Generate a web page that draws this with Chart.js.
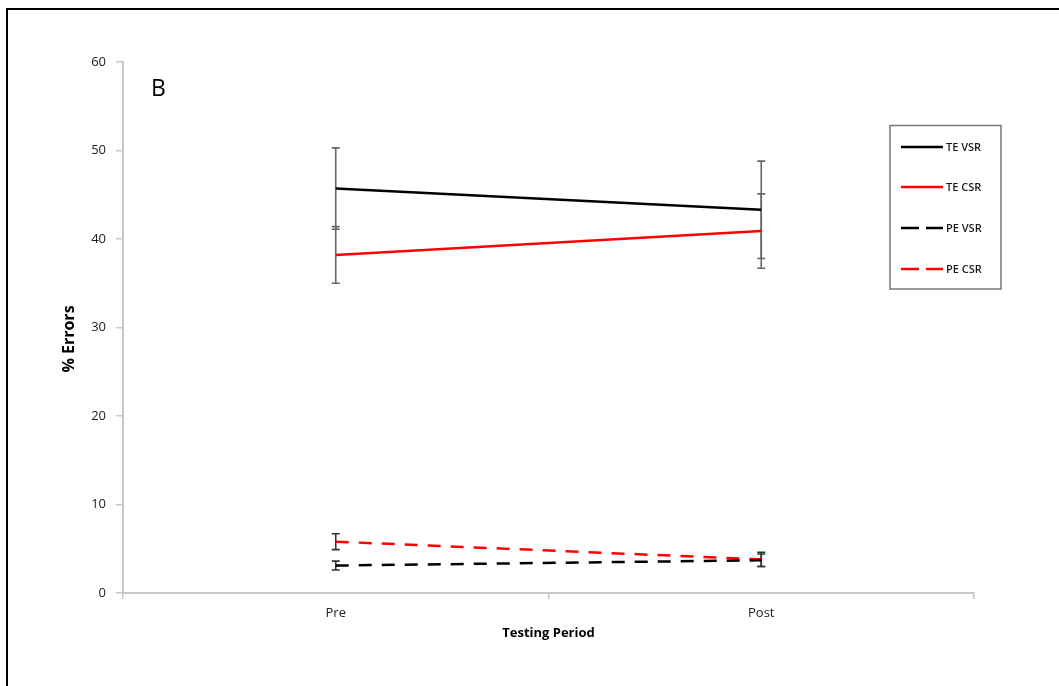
<!DOCTYPE html>
<html>
<head>
<meta charset="utf-8">
<script src="https://cdn.jsdelivr.net/npm/chart.js@4"></script>
<style>
  html, body { margin: 0; padding: 0; background: #fff; overflow: hidden; }
  #wrap { position: relative; width: 1059px; height: 686px; }
  #frame { position: absolute; left: 6px; top: 8px; width: 1100px; height: 700px;
           border: 2px solid #000; box-sizing: border-box; pointer-events: none; }
  canvas { position: absolute; left: 0; top: 0; }
</style>
</head>
<body>
<div id="wrap">
  <canvas id="c" width="1059" height="686"></canvas>
  <div id="frame"></div>
</div>
<script>
// Testing periods
const categories = ['Pre', 'Post'];

// Mean % errors and their error-bar half-widths
const teVsr = [45.7, 43.3];
const teVsrErr = [4.6, 5.5];
const teCsr = [38.2, 40.9];
const teCsrErr = [3.2, 4.2];
const peVsr = [3.1, 3.7];
const peVsrErr = [0.5, 0.7];
const peCsr = [5.8, 3.8];
const peCsrErr = [0.9, 0.8];

const yTicks = [0, 10, 20, 30, 40, 50, 60];

const FONT = "'Open Sans', 'Liberation Sans', sans-serif";

// Vertical error bars with caps, drawn under the lines
const errorBars = {
  id: 'errorBars',
  beforeDatasetsDraw(chart) {
    const { ctx, scales: { x, y } } = chart;
    ctx.save();
    chart.data.datasets.forEach(ds => {
      ds.data.forEach((v, i) => {
        const e = ds.errors[i];
        const px = x.getPixelForValue(i);
        const top = y.getPixelForValue(v + e);
        const bot = y.getPixelForValue(v - e);
        ctx.strokeStyle = ds.errorColor;
        ctx.lineWidth = 1.6;
        ctx.setLineDash([]);
        ctx.beginPath();
        ctx.moveTo(px, top); ctx.lineTo(px, bot);
        ctx.moveTo(px - 4, top); ctx.lineTo(px + 4, top);
        ctx.moveTo(px - 4, bot); ctx.lineTo(px + 4, bot);
        ctx.stroke();
      });
    });
    ctx.restore();
  }
};

// Axis titles, panel letter and the boxed legend
const decorations = {
  id: 'decorations',
  afterDraw(chart) {
    const { ctx, chartArea } = chart;
    ctx.save();
    ctx.fillStyle = '#000';
    ctx.textAlign = 'center';
    ctx.textBaseline = 'middle';
    ctx.font = `bold 13px ${FONT}`;
    ctx.fillText('Testing Period', (chartArea.left + chartArea.right) / 2, 633);

    ctx.save();
    ctx.translate(69, 339);
    ctx.rotate(-Math.PI / 2);
    ctx.font = `bold 16px 'Liberation Sans Narrow', ${FONT}`;
    ctx.fillText('% Errors', 0, 0);
    ctx.restore();

    ctx.textAlign = 'left';
    ctx.font = `23px ${FONT}`;
    ctx.fillText('B', 151, 89);

    // legend
    ctx.strokeStyle = '#777';
    ctx.lineWidth = 1.5;
    ctx.strokeRect(890, 125.5, 111, 163.5);
    const rowY = [147, 187, 228, 269];
    chart.data.datasets.forEach((ds, i) => {
      const yy = rowY[i];
      ctx.strokeStyle = ds.borderColor;
      ctx.lineWidth = 2.5;
      ctx.setLineDash(ds.borderDash.length ? [18, 7] : []);
      ctx.beginPath();
      ctx.moveTo(901, yy); ctx.lineTo(943, yy);
      ctx.stroke();
      ctx.setLineDash([]);
      ctx.fillStyle = '#1a1a1a';
      ctx.font = `600 11px ${FONT}`;
      ctx.fillText(ds.label, 946, yy + 0.5);
    });
    ctx.restore();
  }
};

const lineStyle = (label, data, errors, color, dash, errColor) => ({
  label, data, errors,
  borderColor: color,
  borderWidth: 2.5,
  borderDash: dash,
  errorColor: errColor,
  pointRadius: 0,
  tension: 0,
  fill: false
});

new Chart(document.getElementById('c'), {
  type: 'line',
  data: {
    labels: categories,
    datasets: [
      lineStyle('TE VSR', teVsr, teVsrErr, '#000000', [], '#666'),
      lineStyle('TE CSR', teCsr, teCsrErr, '#ff0000', [], '#666'),
      lineStyle('PE VSR', peVsr, peVsrErr, '#000000', [13, 10], '#333'),
      lineStyle('PE CSR', peCsr, peCsrErr, '#ff0000', [13, 10], '#333')
    ]
  },
  options: {
    responsive: false,
    animation: false,
    devicePixelRatio: 1,
    layout: { padding: { top: 62, right: 85, left: 0, bottom: 0 } },
    plugins: { legend: { display: false }, tooltip: { enabled: false } },
    scales: {
      x: {
        type: 'category',
        offset: true,
        grid: { offset: true, drawOnChartArea: false, tickLength: 6, color: '#c8c8c8', lineWidth: 1.5 },
        border: { color: '#c8c8c8', width: 2 },
        ticks: { color: '#222', font: { size: 13, family: FONT, weight: '500' }, padding: 6 },
        afterFit(s) { s.height = 93; }
      },
      y: {
        min: 0, max: 60,
        afterBuildTicks(s) { s.ticks = yTicks.map(v => ({ value: v })); },
        grid: { drawOnChartArea: false, tickLength: 7, color: '#c8c8c8', lineWidth: 1.5 },
        border: { color: '#c8c8c8', width: 2 },
        ticks: { color: '#222', font: { size: 13, family: FONT, weight: '500' }, padding: 10 },
        afterFit(s) { s.width = 123; }
      }
    }
  },
  plugins: [errorBars, decorations]
});
</script>
</body>
</html>
